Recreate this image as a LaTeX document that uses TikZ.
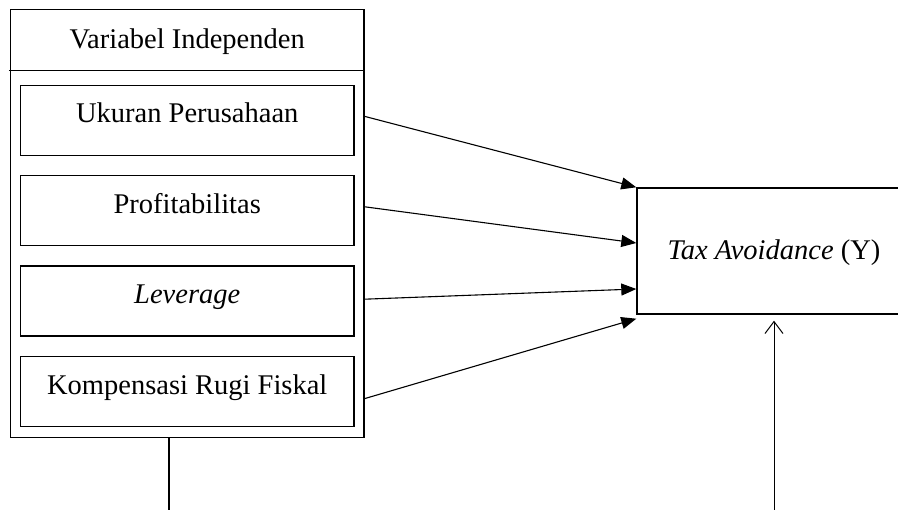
\documentclass[tikz,border=0pt]{standalone}
\usepackage{fontspec}
\setmainfont{Liberation Serif}
\usetikzlibrary{arrows.meta, positioning}

\begin{document}
\begin{tikzpicture}[
  x=1pt, y=1pt,
  outer/.style={draw, line width=1.4pt, minimum width=353.5pt, minimum height=428pt, inner sep=0pt},
  head/.style={minimum width=353.5pt, minimum height=61.5pt, inner sep=0pt,
               font=\fontsize{28.5}{34}\selectfont, text height=20pt, text depth=2pt},
  var/.style={draw, line width=1.4pt, minimum width=333.5pt, minimum height=70pt, inner sep=0pt,
              font=\fontsize{28.5}{34}\selectfont, text height=22pt, text depth=17pt},
  dep/.style={draw, line width=1.4pt, minimum width=274pt, minimum height=126pt, inner sep=0pt,
              font=\fontsize{28.5}{34}\selectfont, text height=20pt, text depth=2pt},
  arrow/.style={-{Triangle[length=15pt, width=12pt]}, line width=1.1pt},
  open/.style={-{Straight Barb[length=12pt, width=18pt]}, line width=1pt}
]
\useasboundingbox (0,0) rectangle (898,510);

\node[outer] (indep) at (187.25,286.5) {};
\node[head, below=0pt of indep.north] (head) {Variabel Independen};
\draw[line width=1.4pt] ([xshift=-1.5pt]head.south west) -- (head.south east);

\node[var, below=14pt of head] (u1) {Ukuran Perusahaan};
\node[var, below=19pt of u1] (u2) {Profitabilitas};
\node[var, below=19pt of u2] (u3) {\textit{Leverage}};
\node[var, below=19pt of u3] (u4) {Kompensasi Rugi Fiskal};

\node[dep] (tax) at (774,259) {\textit{Tax Avoidance} (Y)};

\draw[arrow] ([yshift=4pt]u1.east -| indep.east) -- (tax.north west);
\draw[arrow] ([yshift=4pt]u2.east -| indep.east) -- ([yshift=8pt]tax.west);
\draw[arrow] ([yshift=2pt]u3.east -| indep.east) -- ([yshift=-38pt]tax.west);
\draw[arrow] ([yshift=-7pt]u4.east -| indep.east) -- ([yshift=-4pt]tax.south west);

\coordinate (l0) at (169,0);
\coordinate (r0) at (774,0);
\draw[line width=1.4pt] (indep.south -| l0) -- (l0);
\draw[open] (r0) -- ([yshift=-6pt]tax.south);
\end{tikzpicture}
\end{document}
